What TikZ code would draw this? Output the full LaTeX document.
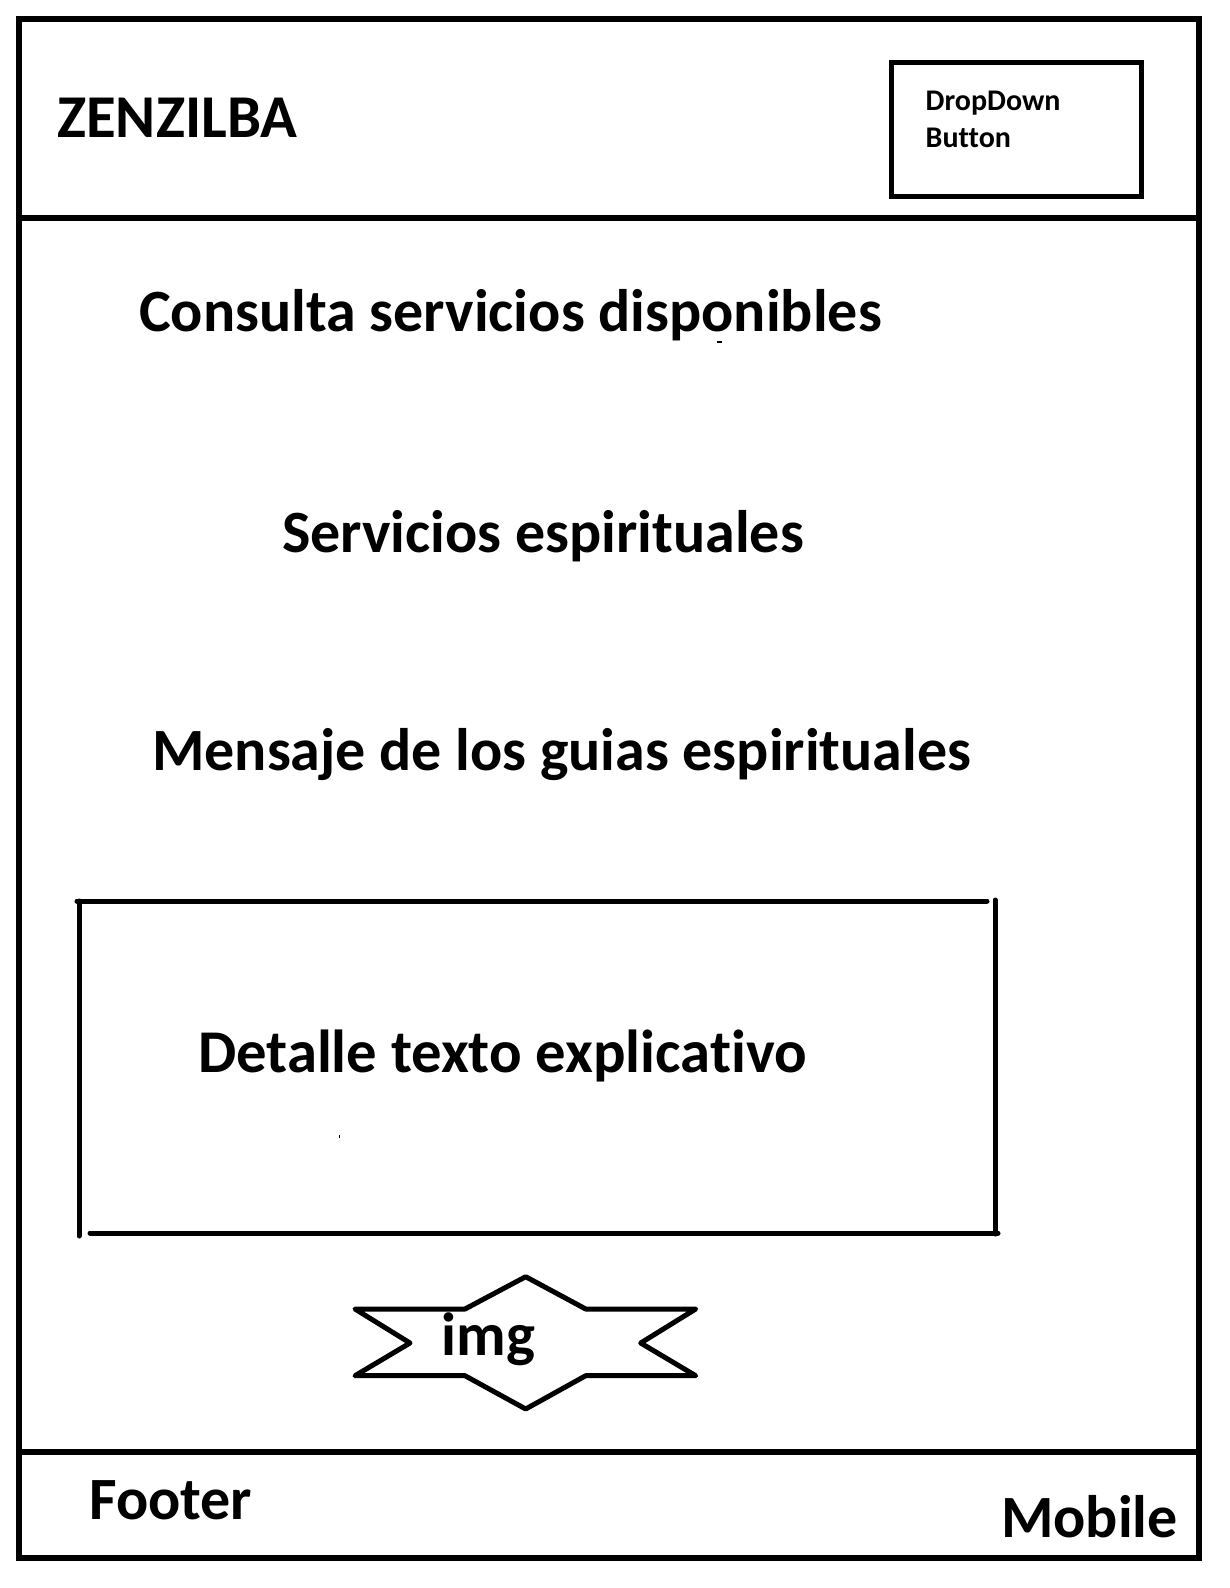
\documentclass[tikz,border=0pt]{standalone}
\usepackage{fontspec}
\setmainfont{Carlito}[Ligatures=NoCommon]
\begin{document}
\begin{tikzpicture}[x=1pt,y=-1pt,
  frame/.style={draw=black,line width=6pt},
  thin frame/.style={draw=black,line width=5pt,line cap=round},
  lbl/.style={anchor=base west,inner sep=0pt,font=\bfseries},
  big/.style={lbl,font=\fontsize{60}{60}\selectfont\bfseries},
  head/.style={lbl,font=\fontsize{60}{60}\selectfont\bfseries},
  small/.style={lbl,font=\fontsize{30}{37}\selectfont\bfseries}]
\useasboundingbox (0,0) rectangle (1230,1588);
% outer frame and separators
\draw[frame] (19,19) rectangle (1199,1558);
\draw[frame] (19,217.5) -- (1199,217.5);
\draw[frame] (19,1452) -- (1199,1452);
% header
\node[head,font=\fontsize{60.8}{61}\selectfont\bfseries] (logo) at (57,137) {ZENZILBA};
\draw[thin frame,line cap=butt] (891,62) rectangle (1141,196);
\node[small] (dd1) at (925.5,110) {DropDown};
\node[small] (dd2) at (925.5,147) {Button};
% body texts
\node[big] (t1) at (139,331) {Consulta servicios disponibles};
\node[big] (t2) at (282,552) {Servicios espirituales};
\node[big] (t3) at (152,770) {Mensaje de los guias espirituales};
% detail box
\draw[thin frame] (77,901) -- (987,901);
\draw[thin frame] (79,901) -- (79,1236);
\draw[thin frame] (995,900) -- (995,1234);
\draw[thin frame] (90,1233) -- (998,1233);
\node[big,font=\fontsize{60.7}{61}\selectfont\bfseries] (t4) at (198,1072) {Detalle texto explicativo};
\fill (338.5,1134.5) rectangle (340,1137.5);
\fill (717,341) rectangle (722,343);
% star
\draw[line width=5pt,line join=round] (525.7,1276.7) -- (585.7,1309) -- (695.7,1309) -- (640.7,1343)
  -- (695.7,1375.7) -- (585.7,1375.7) -- (525.7,1409) -- (465,1375.7) -- (355,1375.7)
  -- (410,1343) -- (355,1309) -- (465,1309) -- cycle;
\node[lbl,font=\fontsize{61}{61}\selectfont\bfseries] (img) at (441.5,1355) {img};
% footer
\node[head] (foot) at (89,1519) {Footer};
\node[head,anchor=base east] (mob) at (1178,1537) {Mobile};
\end{tikzpicture}
\end{document}
